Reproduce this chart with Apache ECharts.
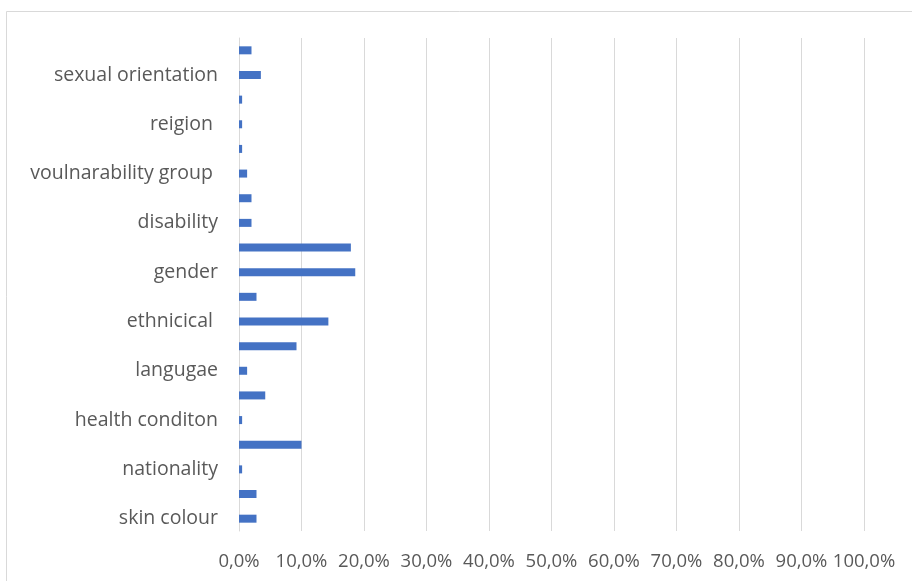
<!DOCTYPE html>
<html>
<head>
<meta charset="utf-8">
<script src="https://cdn.jsdelivr.net/npm/echarts@6/dist/echarts.min.js"></script>
<style>
  html, body { margin: 0; padding: 0; background: #ffffff; }
  #chart { width: 912px; height: 581px; }
</style>
</head>
<body>
<div id="chart"></div>
<script>
// Categories from bottom to top; blank entries are rows whose labels are skipped on the axis
const categories = [
  'skin colour', '', 'nationality', '', 'health conditon', '',
  'langugae', '', 'ethnicical ', '', 'gender', '',
  'disability', '', 'voulnarability group ', '', 'reigion ', '',
  'sexual orientation', ''
];

// Share of responses (percent)
const shares = [
  2.8, 2.8, 0.5, 10.0, 0.5, 4.2,
  1.3, 9.2, 14.3, 2.8, 18.6, 17.9,
  2.0, 2.0, 1.3, 0.5, 0.5, 0.5,
  3.5, 2.0
];

const xTicks = { min: 0, max: 100, step: 10 };

const chart = echarts.init(document.getElementById('chart'), null, { renderer: 'canvas' });

const fontFamily = 'Open Sans, Lato, sans-serif';

chart.setOption({
  animation: false,
  backgroundColor: '#ffffff',
  graphic: [{
    type: 'rect',
    shape: { x: 6.5, y: 11.5, width: 1000, height: 1000 },
    style: { fill: 'none', stroke: '#d9d9d9', lineWidth: 1 },
    silent: true
  }],
  grid: { left: 239, right: 48, top: 38, bottom: 50, containLabel: false },
  xAxis: {
    type: 'value',
    min: xTicks.min,
    max: xTicks.max,
    interval: xTicks.step,
    axisLine: { show: false },
    axisTick: { show: false },
    splitLine: { show: true, lineStyle: { color: '#d9d9d9', width: 1 } },
    axisLabel: {
      color: '#595959',
      fontFamily: fontFamily,
      fontSize: 18.5,
      margin: 21,
      formatter: v => v.toFixed(1).replace('.', ',') + '%'
    }
  },
  yAxis: {
    type: 'category',
    data: categories,
    axisLine: { show: true, lineStyle: { color: '#d9d9d9', width: 1 } },
    axisTick: { show: false },
    splitLine: { show: false },
    axisLabel: {
      interval: 0,
      color: '#595959',
      fontFamily: fontFamily,
      fontSize: 19.5,
      margin: 21
    }
  },
  series: [{
    type: 'bar',
    data: shares,
    barWidth: 8,
    itemStyle: { color: '#4472c4' }
  }]
});
</script>
</body>
</html>
